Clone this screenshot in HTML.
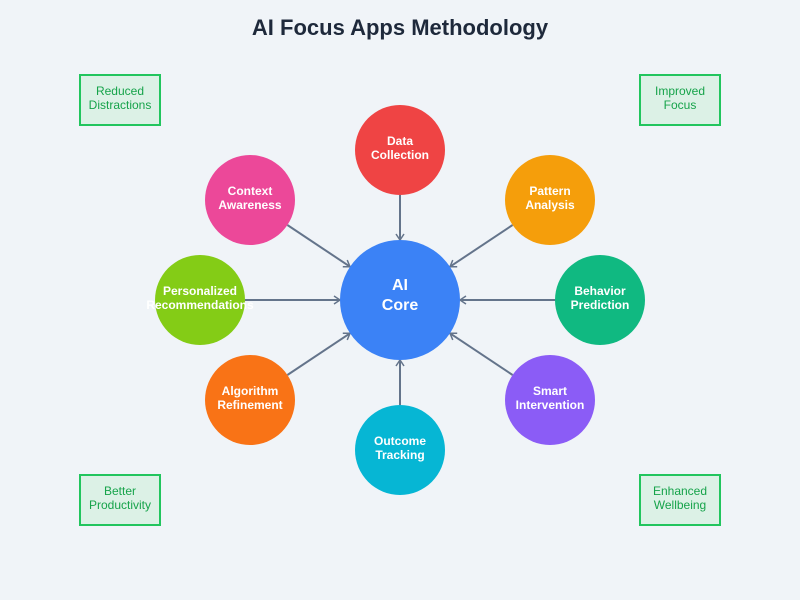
<!DOCTYPE html>
<html><head><style>body{margin:0;background:#f0f4f8;}svg{display:block}</style></head><body>
<svg width="800" height="600" viewBox="0 0 800 600" xmlns="http://www.w3.org/2000/svg" font-family="Liberation Sans, sans-serif">
<rect width="800" height="600" fill="#f0f4f8"/>
<defs><marker id="a" markerWidth="10" markerHeight="10" refX="8" refY="5" orient="auto" markerUnits="userSpaceOnUse"><path d="M2,1 L8,5 L2,9" fill="none" stroke="#64748b" stroke-width="1.5"/></marker></defs>
<text x="400" y="35" text-anchor="middle" font-size="22" font-weight="bold" fill="#1e293b">AI Focus Apps Methodology</text>
<g fill="#dcf1e6" stroke="#22c55e" stroke-width="2">
<rect x="80" y="75" width="80" height="50"/><rect x="640" y="75" width="80" height="50"/>
<rect x="80" y="475" width="80" height="50"/><rect x="640" y="475" width="80" height="50"/></g>
<g font-size="12" fill="#16a34a" text-anchor="middle">
<text x="120" y="95">Reduced</text><text x="120" y="109">Distractions</text>
<text x="680" y="95">Improved</text><text x="680" y="109">Focus</text>
<text x="120" y="495">Better</text><text x="120" y="509">Productivity</text>
<text x="680" y="495">Enhanced</text><text x="680" y="509">Wellbeing</text></g>
<g stroke="#64748b" stroke-width="2" marker-end="url(#a)">
<line x1="400" y1="195" x2="400" y2="240"/>
<line x1="400" y1="405" x2="400" y2="360"/>
<line x1="245" y1="300" x2="340" y2="300"/>
<line x1="555" y1="300" x2="460" y2="300"/>
<line x1="287.4" y1="225" x2="350" y2="266.7"/>
<line x1="512.6" y1="225" x2="450" y2="266.7"/>
<line x1="287.4" y1="375" x2="350" y2="333.3"/>
<line x1="512.6" y1="375" x2="450" y2="333.3"/></g>
<circle cx="400" cy="300" r="60" fill="#3b82f6"/>
<circle cx="400" cy="150" r="45" fill="#ef4444"/>
<circle cx="550" cy="200" r="45" fill="#f59e0b"/>
<circle cx="600" cy="300" r="45" fill="#10b981"/>
<circle cx="550" cy="400" r="45" fill="#8b5cf6"/>
<circle cx="400" cy="450" r="45" fill="#06b6d4"/>
<circle cx="250" cy="400" r="45" fill="#f97316"/>
<circle cx="200" cy="300" r="45" fill="#84cc16"/>
<circle cx="250" cy="200" r="45" fill="#ec4899"/>
<g fill="#fff" font-weight="bold" text-anchor="middle">
<text x="400" y="290" font-size="16">AI</text><text x="400" y="310" font-size="16">Core</text>
<g font-size="12">
<text x="400" y="145">Data</text><text x="400" y="159">Collection</text>
<text x="550" y="195">Pattern</text><text x="550" y="209">Analysis</text>
<text x="600" y="295">Behavior</text><text x="600" y="309">Prediction</text>
<text x="550" y="395">Smart</text><text x="550" y="409">Intervention</text>
<text x="400" y="445">Outcome</text><text x="400" y="459">Tracking</text>
<text x="250" y="395">Algorithm</text><text x="250" y="409">Refinement</text>
<text x="200" y="295">Personalized</text><text x="200" y="309">Recommendations</text>
<text x="250" y="195">Context</text><text x="250" y="209">Awareness</text></g></g>
</svg>
</body></html>
